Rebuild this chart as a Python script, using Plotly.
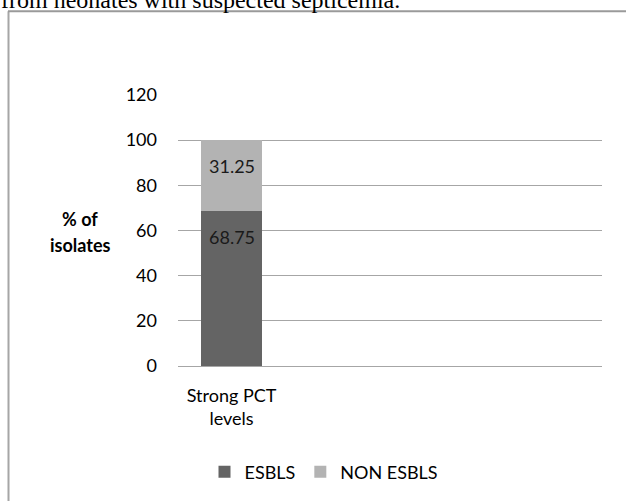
import plotly.graph_objects as go

# Chart data
categories = ["Strong PCT levels"]
tick_labels = ["Strong PCT<br>levels"]
esbls = [68.75]
non_esbls = [31.25]
series_names = ["ESBLS", "NON ESBLS"]
y_ticks = [0, 20, 40, 60, 80, 100, 120]

W, H = 626, 501
L, R, T, B = 178, 24, 95, 134
PW, PH = W - L - R, H - T - B


def px_x(px):
    return (px - L) / PW


def px_y(py):
    return (H - B - py) / PH


dark = "#646464"
light = "#b3b3b3"
font_main = "Lato"
fs = 18

fig = go.Figure()
fig.add_trace(go.Bar(x=categories, y=esbls, name=series_names[0],
                     marker=dict(color=dark, line=dict(width=0)), width=0.57))
fig.add_trace(go.Bar(x=categories, y=non_esbls, name=series_names[1],
                     marker=dict(color=light, line=dict(width=0)), width=0.57))

# value labels near the top of each stacked segment
annotations = []
base = [0.0] * len(categories)
for vals in (esbls, non_esbls):
    for i, c in enumerate(categories):
        top = base[i] + vals[i]
        annotations.append(dict(x=c, y=top, xref="x", yref="y", text=f"{vals[i]}",
                                showarrow=False, yshift=-26,
                                font=dict(family=font_main, size=fs, color="#1a1a1a")))
        base[i] = top

# axis title drawn horizontally at the left, one line per annotation
for line, py in (("% of", 219), ("isolates", 246)):
    annotations.append(dict(x=px_x(80), y=px_y(py), xref="paper", yref="paper",
                            text=f"<b>{line}</b>", showarrow=False,
                            xanchor="center", yanchor="middle",
                            font=dict(family=font_main, size=fs, color="#000000")))

# caption line above the frame
annotations.append(dict(x=px_x(-1), y=px_y(15), xref="paper", yref="paper",
                        text="from neonates with suspected septicemia.",
                        showarrow=False, xanchor="left", yanchor="bottom",
                        font=dict(family="Liberation Serif", size=24, color="#000000")))

shapes = [
    dict(type="line", xref="paper", yref="paper", x0=px_x(8.5), x1=px_x(8.5),
         y0=px_y(11), y1=px_y(H + 5), line=dict(color="#a6a6a6", width=2)),
    dict(type="line", xref="paper", yref="paper", x0=px_x(8), x1=px_x(W + 5),
         y0=px_y(11), y1=px_y(11), line=dict(color="#9a9a9a", width=2)),
]

fig.update_layout(
    width=W, height=H,
    margin=dict(l=L, r=R, t=T, b=B),
    barmode="stack",
    paper_bgcolor="white", plot_bgcolor="white",
    font=dict(family=font_main, size=fs, color="#000000"),
    showlegend=True,
    legend=dict(orientation="h", x=px_x(324), y=px_y(472), xanchor="center",
                yanchor="middle", font=dict(family=font_main, size=fs),
                itemwidth=30, traceorder="normal"),
    annotations=annotations,
    shapes=shapes,
    xaxis=dict(type="category", range=[-0.5, 3.46], tickvals=categories,
               ticktext=tick_labels, showgrid=False, showline=False,
               ticks="", ticklabelstandoff=17, tickfont=dict(size=fs)),
    yaxis=dict(range=[0, 120], tickvals=y_ticks, showgrid=True,
               gridcolor="#a6a6a6", gridwidth=1.3, zeroline=True,
               zerolinecolor="#a6a6a6", zerolinewidth=1.3, showline=False,
               ticks="", ticklabelstandoff=20, tickfont=dict(size=fs)),
)

fig.write_html("out.html")
